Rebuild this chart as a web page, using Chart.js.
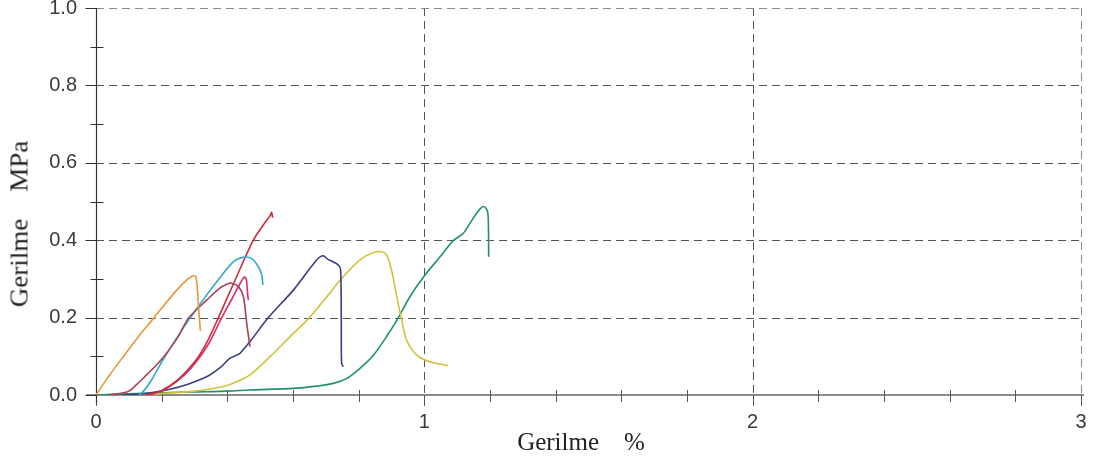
<!DOCTYPE html>
<html>
<head>
<meta charset="utf-8">
<script src="https://cdn.jsdelivr.net/npm/chart.js@4.4.1/dist/chart.umd.min.js"></script>
<style>
  html, body { margin: 0; padding: 0; background: #fff; }
  #wrap { position: relative; width: 1097px; height: 459px; overflow: hidden; }
  #c { position: absolute; left: 0; top: 0; }
  .ttl { position: absolute; font-family: "Liberation Serif", "DejaVu Serif", serif; color: #222; white-space: pre; line-height: 1; }
  #xt { font-size: 25px; left: 581px; top: 441px; transform: translate(-50%, -50%); }
  #yt { font-size: 25px; left: 19px; top: 224px; transform: translate(-50%, -50%) rotate(-90deg) scaleX(1.08); }
</style>
</head>
<body>
<div id="wrap">
  <canvas id="c" width="1097" height="459"></canvas>
  <div class="ttl" id="xt">Gerilme    %</div>
  <div class="ttl" id="yt">Gerilme    MPa</div>
</div>
<script>
// ---- data (strain %, stress MPa) ----
const xTickValues = [0, 1, 2, 3];
const yTickValues = [0.0, 0.2, 0.4, 0.6, 0.8, 1.0];

const orangeX = [0, 0.04, 0.083, 0.13, 0.175, 0.215, 0.246, 0.275, 0.291, 0.303, 0.308, 0.313, 0.318];
const orangeY = [0, 0.05, 0.099, 0.152, 0.198, 0.24, 0.271, 0.296, 0.306, 0.307, 0.28, 0.22, 0.165];

const maroonX = [0.04, 0.098, 0.125, 0.154, 0.185, 0.215, 0.25, 0.281, 0.337, 0.375, 0.40, 0.413, 0.434, 0.449, 0.459, 0.469];
const maroonY = [0, 0.009, 0.028, 0.052, 0.078, 0.108, 0.15, 0.198, 0.245, 0.275, 0.287, 0.289, 0.28, 0.254, 0.185, 0.125];

const cyanX = [0.13, 0.145, 0.17, 0.2, 0.24, 0.286, 0.33, 0.37, 0.418, 0.449, 0.474, 0.494, 0.505, 0.508];
const cyanY = [0, 0.01, 0.04, 0.085, 0.14, 0.198, 0.25, 0.295, 0.344, 0.356, 0.353, 0.332, 0.31, 0.284];

const redX = [0.15, 0.2, 0.25, 0.3, 0.337, 0.373, 0.42, 0.479, 0.51, 0.53, 0.535, 0.538];
const redY = [0, 0.012, 0.04, 0.085, 0.135, 0.2, 0.29, 0.40, 0.44, 0.463, 0.472, 0.458];

const pinkX = [0.16, 0.2, 0.25, 0.29, 0.34, 0.38, 0.415, 0.44, 0.452, 0.458, 0.46, 0.462, 0.464];
const pinkY = [0, 0.01, 0.038, 0.07, 0.128, 0.195, 0.25, 0.29, 0.305, 0.298, 0.28, 0.26, 0.245];

const navyX = [0.08, 0.15, 0.225, 0.28, 0.337, 0.38, 0.408, 0.428, 0.439, 0.469, 0.525, 0.601, 0.672, 0.692, 0.705, 0.72, 0.738, 0.745, 0.747, 0.748, 0.753];
const navyY = [0, 0.004, 0.015, 0.028, 0.047, 0.072, 0.095, 0.103, 0.108, 0.138, 0.2, 0.271, 0.349, 0.36, 0.351, 0.345, 0.336, 0.323, 0.2, 0.082, 0.073];

const yellowX = [0.1, 0.2, 0.3, 0.388, 0.43, 0.469, 0.53, 0.591, 0.65, 0.703, 0.748, 0.804, 0.845, 0.87, 0.885, 0.9, 0.916, 0.931, 0.946, 0.977, 1.017, 1.073];
const yellowY = [0, 0.004, 0.01, 0.022, 0.035, 0.052, 0.099, 0.151, 0.2, 0.254, 0.301, 0.349, 0.368, 0.37, 0.362, 0.323, 0.254, 0.194, 0.142, 0.103, 0.086, 0.076];

const greenX = [0, 0.1, 0.2, 0.3, 0.4, 0.469, 0.601, 0.672, 0.723, 0.764, 0.804, 0.845, 0.885, 0.921, 0.956, 1.002, 1.048, 1.088, 1.119, 1.139, 1.165, 1.18, 1.192, 1.195, 1.196];
const greenY = [0, 0.003, 0.006, 0.008, 0.01, 0.013, 0.017, 0.023, 0.03, 0.043, 0.069, 0.103, 0.151, 0.2, 0.254, 0.31, 0.357, 0.399, 0.418, 0.444, 0.476, 0.487, 0.476, 0.444, 0.357];

const series = [
  { name: 'S1', xs: orangeX, ys: orangeY, color: '#e8963a' },
  { name: 'S2', xs: maroonX, ys: maroonY, color: '#a84456' },
  { name: 'S3', xs: cyanX, ys: cyanY, color: '#33a9c9' },
  { name: 'S4', xs: redX, ys: redY, color: '#cc2b3b' },
  { name: 'S5', xs: pinkX, ys: pinkY, color: '#d6306e' },
  { name: 'S6', xs: navyX, ys: navyY, color: '#3a3f7e' },
  { name: 'S7', xs: yellowX, ys: yellowY, color: '#d2c23a' },
  { name: 'S8', xs: greenX, ys: greenY, color: '#23906a' }
];

const datasets = series.map(s => ({
  label: s.name,
  data: s.xs.map((x, i) => ({ x: x, y: s.ys[i] })),
  borderColor: s.color,
  backgroundColor: s.color,
  borderWidth: 1.6,
  pointRadius: 0,
  showLine: true,
  tension: 0.3,
  fill: false
}));

const isInt = v => Math.abs(v - Math.round(v)) < 1e-6;
const isFifth = v => Math.abs(v * 5 - Math.round(v * 5)) < 1e-6;

const decor = {
  id: 'decor',
  beforeDatasetsDraw(chart) {
    const { ctx, chartArea: a, scales: { x, y } } = chart;
    ctx.save();
    // dashed grid
    ctx.lineWidth = 1;
    ctx.setLineDash([8, 5]);
    x.ticks.forEach(t => {
      if (!isInt(t.value) || t.value <= 0) return;
      const px = Math.round(x.getPixelForValue(t.value)) + 0.5;
      ctx.strokeStyle = t.value >= 3 ? '#8a8a8a' : '#555';
      ctx.beginPath(); ctx.moveTo(px, a.top); ctx.lineTo(px, a.bottom); ctx.stroke();
    });
    y.ticks.forEach(t => {
      if (!isFifth(t.value) || t.value <= 0) return;
      const py = Math.round(y.getPixelForValue(t.value)) + 0.5;
      ctx.strokeStyle = t.value >= 1 ? '#8a8a8a' : '#555';
      ctx.beginPath(); ctx.moveTo(a.left, py); ctx.lineTo(a.right, py); ctx.stroke();
    });
    ctx.setLineDash([]);
    // x axis line
    const y0 = y.getPixelForValue(0);
    ctx.strokeStyle = '#8c8c8c';
    ctx.lineWidth = 2;
    ctx.beginPath(); ctx.moveTo(a.left - 10, y0); ctx.lineTo(a.right + 3, y0); ctx.stroke();
    // x ticks
    ctx.lineWidth = 1;
    ctx.strokeStyle = '#555';
    x.ticks.forEach(t => {
      const px = Math.round(x.getPixelForValue(t.value)) + 0.5;
      ctx.beginPath();
      if (isInt(t.value)) { ctx.moveTo(px, y0); ctx.lineTo(px, y0 + 11); }
      else { ctx.moveTo(px, y0 - 5); ctx.lineTo(px, y0 + 7); }
      ctx.stroke();
    });
    // y axis line
    const x0 = Math.round(x.getPixelForValue(0)) + 0.5;
    ctx.strokeStyle = '#333';
    ctx.lineWidth = 1.2;
    ctx.beginPath(); ctx.moveTo(x0, a.top); ctx.lineTo(x0, y0 + 8); ctx.stroke();
    // y ticks
    ctx.lineWidth = 1;
    y.ticks.forEach(t => {
      const py = Math.round(y.getPixelForValue(t.value)) + 0.5;
      ctx.beginPath();
      if (isFifth(t.value)) { ctx.moveTo(x0 - 11, py); ctx.lineTo(x0, py); }
      else { ctx.moveTo(x0 - 6, py); ctx.lineTo(x0 + 7, py); }
      ctx.stroke();
    });
    ctx.restore();
  }
};

new Chart(document.getElementById('c'), {
  type: 'scatter',
  data: { datasets },
  plugins: [decor],
  options: {
    responsive: false,
    animation: false,
    layout: { padding: { top: 8, right: 16, left: 0, bottom: 0 } },
    plugins: { legend: { display: false }, tooltip: { enabled: false } },
    scales: {
      x: {
        type: 'linear', min: 0, max: 3,
        grid: { display: false, drawTicks: false },
        border: { display: false },
        ticks: {
          stepSize: 0.2, padding: 15, color: '#3a3a3a',
          font: { family: '"Liberation Sans", Arial, sans-serif', size: 20 },
          maxRotation: 0, autoSkip: false,
          callback: v => xTickValues.some(t => Math.abs(t - v) < 1e-6) ? String(Math.round(v)) : ''
        },
        afterFit: s => { s.height = 64; s.paddingLeft = 0; s.paddingRight = 0; }
      },
      y: {
        type: 'linear', min: 0, max: 1,
        grid: { display: false, drawTicks: false },
        border: { display: false },
        ticks: {
          stepSize: 0.1, padding: 19, color: '#3a3a3a',
          font: { family: '"Liberation Sans", Arial, sans-serif', size: 20 },
          autoSkip: false,
          callback: v => yTickValues.some(t => Math.abs(t - v) < 1e-6) ? v.toFixed(1) : ''
        },
        afterFit: s => { s.width = 96; s.paddingTop = 0; s.paddingBottom = 0; }
      }
    }
  }
});
</script>
</body>
</html>
